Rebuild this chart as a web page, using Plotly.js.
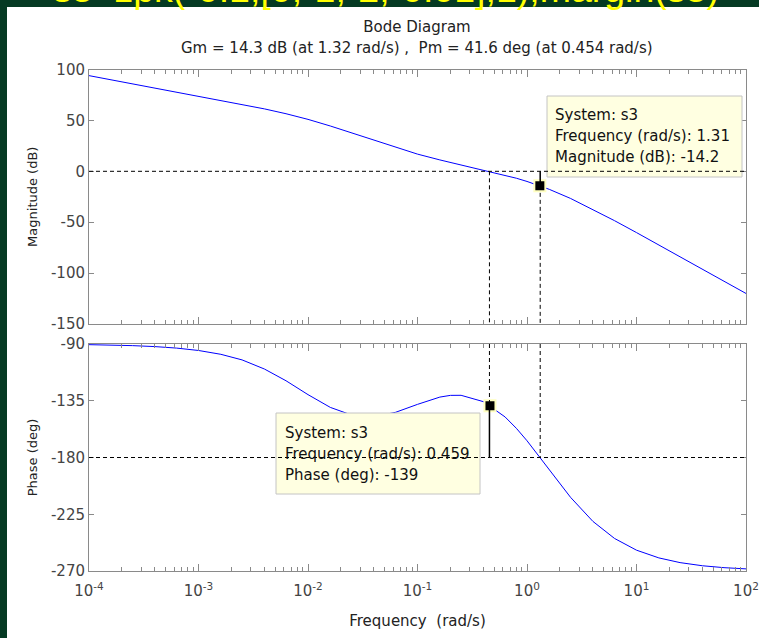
<!DOCTYPE html>
<html>
<head>
<meta charset="utf-8">
<script src="https://cdn.plot.ly/plotly-3.0.1.min.js"></script>
<style>html,body{margin:0;padding:0;background:#053a23;overflow:hidden}</style>
</head>
<body>
<div id="plot" style="width:759px;height:638px"></div>
<script>
// ---- data ----
const freq = [1e-4, 1.6e-4, 2.5e-4, 4e-4, 6.3e-4, 1e-3, 1.6e-3, 2.5e-3, 4e-3, 6.3e-3,
              0.01, 0.016, 0.025, 0.032, 0.04, 0.063, 0.1, 0.16, 0.2, 0.25, 0.4, 0.63, 0.8,
              1, 1.3, 1.6, 2.5, 4, 6.3, 10, 16, 25, 40, 63, 100];
const magnitudeDb = [93.98, 89.90, 86.02, 81.93, 77.97, 73.94, 69.79, 65.76, 61.31, 56.56,
                     51.01, 44.50, 37.68, 33.79, 30.27, 23.33, 16.89, 11.18, 8.71, 6.33, 1.38, -3.77, -6.81,
                     -9.96, -14.10, -17.75, -26.66, -37.35, -48.49, -60.21, -72.33, -83.91, -96.14, -107.97, -120.00];
const phaseDeg = [-90.52, -90.83, -91.29, -92.06, -93.24, -95.14, -98.17, -102.61, -109.85, -119.15,
                  -130.15, -140.28, -146.31, -147.66, -147.60, -144.18, -137.86, -132.09, -130.73, -130.68, -135.72, -147.81, -156.87,
                  -166.71, -179.41, -189.87, -211.60, -230.68, -244.19, -253.49, -259.61, -263.35, -265.84, -267.35, -268.33];

const xTickVals = [1e-4, 1e-3, 1e-2, 1e-1, 1, 10, 100];
const xTickText = ['10<sup>-4</sup>', '10<sup>-3</sup>', '10<sup>-2</sup>', '10<sup>-1</sup>', '10<sup>0</sup>', '10<sup>1</sup>', '10<sup>2</sup>'];
const magTicks = [-150, -100, -50, 0, 50, 100];
const magTickText = ['-150', '-100', '-50', '0', '50', '100'];
const phaseTicks = [-270, -225, -180, -135, -90];
const phaseTickText = ['-270', '-225', '-180', '-135', '-90'];

const gainMarginDb = [14.3];
const gainCrossFreq = [1.32];   // phase crossover
const phaseMarginDeg = [41.6];
const phaseCrossFreq = [0.454]; // gain crossover

const tipMagFreq = [1.31];
const tipMagValue = [-14.2];
const tipPhaseFreq = [0.459];
const tipPhaseValue = [-139];

// ---- layout helpers (pixel -> paper) ----
const W = 759, H = 638;
const px = x => x / W;
const py = y => 1 - y / H;

const FONT = 'DejaVu Sans, Liberation Sans, Arial, sans-serif';
const AXC = '#8a8a8a';
const TXT = '#222222';
const DASH = '4px,3px';

const minorVals = [];
for (let e = -4; e < 2; e++) for (let m = 2; m <= 9; m++) minorVals.push(m * Math.pow(10, e));

const XDOM = [px(89), px(746)];
const xCommon = {
  type: 'log', range: [-4, 2], domain: XDOM,
  showgrid: false, zeroline: false,
  showline: true, linecolor: AXC, linewidth: 1, mirror: 'ticks',
  ticks: 'inside', ticklen: 7, tickcolor: AXC, tickwidth: 1,
  tickmode: 'array', tickvals: xTickVals, ticktext: xTickText,
  tickfont: {family: FONT, size: 15, color: '#444'}
};
const xMinor = {
  type: 'log', range: [-4, 2], domain: XDOM,
  showgrid: false, zeroline: false, showline: false, mirror: 'ticks',
  ticks: 'inside', ticklen: 4, tickcolor: AXC, tickwidth: 1,
  tickmode: 'array', tickvals: minorVals, showticklabels: false
};
const yCommon = {
  showgrid: false, zeroline: false,
  showline: true, linecolor: AXC, linewidth: 1, mirror: 'ticks',
  ticks: 'inside', ticklen: 5, tickcolor: AXC,
  tickmode: 'array',
  tickfont: {family: FONT, size: 15, color: '#444'}
};

const traces = [
  {x: freq, y: magnitudeDb, xaxis: 'x', yaxis: 'y', mode: 'lines', line: {color: '#0000ff', width: 1}, hoverinfo: 'skip'},
  {x: freq, y: phaseDeg, xaxis: 'x2', yaxis: 'y2', mode: 'lines', line: {color: '#0000ff', width: 1}, hoverinfo: 'skip'},
  {x: tipMagFreq, y: tipMagValue, xaxis: 'x', yaxis: 'y', mode: 'markers',
   marker: {symbol: 'square', size: 11, color: '#000', line: {color: '#ffffc0', width: 2}}, hoverinfo: 'skip'},
  {x: tipPhaseFreq, y: tipPhaseValue, xaxis: 'x2', yaxis: 'y2', mode: 'markers',
   marker: {symbol: 'square', size: 11, color: '#000', line: {color: '#ffffc0', width: 2}}, hoverinfo: 'skip'},
  {x: [], y: [], xaxis: 'x3', yaxis: 'y', mode: 'lines', hoverinfo: 'skip'},
  {x: [], y: [], xaxis: 'x4', yaxis: 'y2', mode: 'lines', hoverinfo: 'skip'}
];

const pmLevel = -180 + phaseMarginDeg[0];
const shapes = [
  // white figure area
  {type: 'rect', xref: 'paper', yref: 'paper', x0: px(7), x1: 1.01, y0: -0.01, y1: py(7),
   fillcolor: '#ffffff', line: {width: 0}, layer: 'below'},
  // data tip boxes
  {type: 'rect', xref: 'paper', yref: 'paper', x0: px(547), x1: px(742), y0: py(177), y1: py(96),
   fillcolor: '#ffffe1', line: {color: '#c4c4c4', width: 1}, layer: 'above'},
  {type: 'rect', xref: 'paper', yref: 'paper', x0: px(276), x1: px(480), y0: py(494), y1: py(413),
   fillcolor: '#ffffe1', line: {color: '#c4c4c4', width: 1}, layer: 'above'},
  // magnitude panel reference lines
  {type: 'line', xref: 'x', yref: 'y', x0: 1e-4, x1: 100, y0: 0, y1: 0, line: {color: '#000', width: 1, dash: DASH}, layer: 'above'},
  {type: 'line', xref: 'x', yref: 'y', x0: phaseCrossFreq[0], x1: phaseCrossFreq[0], y0: 0, y1: -150, line: {color: '#000', width: 1, dash: DASH}, layer: 'above'},
  {type: 'line', xref: 'x', yref: 'y', x0: gainCrossFreq[0], x1: gainCrossFreq[0], y0: -gainMarginDb[0], y1: -150, line: {color: '#000', width: 1, dash: DASH}, layer: 'above'},
  {type: 'line', xref: 'x', yref: 'y', x0: gainCrossFreq[0], x1: gainCrossFreq[0], y0: 0, y1: -gainMarginDb[0], line: {color: '#000', width: 1.5}, layer: 'above'},
  // phase panel reference lines
  {type: 'line', xref: 'x2', yref: 'y2', x0: 1e-4, x1: 100, y0: -180, y1: -180, line: {color: '#000', width: 1, dash: DASH}, layer: 'above'},
  {type: 'line', xref: 'x2', yref: 'y2', x0: gainCrossFreq[0], x1: gainCrossFreq[0], y0: -90, y1: -180, line: {color: '#000', width: 1, dash: DASH}, layer: 'above'},
  {type: 'line', xref: 'x2', yref: 'y2', x0: phaseCrossFreq[0], x1: phaseCrossFreq[0], y0: -90, y1: pmLevel, line: {color: '#000', width: 1, dash: DASH}, layer: 'above'},
  {type: 'line', xref: 'x2', yref: 'y2', x0: phaseCrossFreq[0], x1: phaseCrossFreq[0], y0: pmLevel, y1: -180, line: {color: '#000', width: 1.5}, layer: 'above'}
];

function tipLine(text, x, y) {
  return {text: text, xref: 'paper', yref: 'paper', x: px(x), y: py(y), xanchor: 'left', yanchor: 'middle',
          showarrow: false, font: {family: FONT, size: 15, color: '#111'}};
}

const annotations = [
  {text: 's3=zpk(-0.1,[0,-1,-2,-0.01],1);margin(s3)', xref: 'paper', yref: 'paper', x: px(386), y: py(-11),
   xanchor: 'center', yanchor: 'middle', showarrow: false,
   font: {family: 'Liberation Sans, Arial, sans-serif', size: 37.5, color: '#ffff00'}},
  {text: 'Gm = 14.3 dB (at 1.32 rad/s) ,\u00a0 Pm = 41.6 deg (at 0.454 rad/s)', xref: 'paper', yref: 'paper',
   x: px(417), y: py(48), xanchor: 'center', yanchor: 'middle', showarrow: false,
   font: {family: FONT, size: 15, color: TXT}},
  tipLine('System: s3', 553, 115),
  tipLine('Frequency (rad/s): ' + tipMagFreq[0], 553, 136),
  tipLine('Magnitude (dB): ' + tipMagValue[0], 553, 157),
  tipLine('System: s3', 283, 433),
  tipLine('Frequency (rad/s): ' + tipPhaseFreq[0], 283, 454),
  tipLine('Phase (deg): ' + tipPhaseValue[0], 283, 475)
];

const layout = {
  width: W, height: H,
  margin: {l: 0, r: 0, t: 0, b: 0},
  paper_bgcolor: '#053a23',
  plot_bgcolor: 'rgba(0,0,0,0)',
  showlegend: false,
  title: {text: 'Bode Diagram', x: px(417), xanchor: 'center', xref: 'paper', y: py(27), yanchor: 'middle', yref: 'paper',
          font: {family: FONT, size: 15, color: TXT}},
  xaxis: Object.assign({}, xCommon, {anchor: 'y', showticklabels: false}),
  xaxis2: Object.assign({}, xCommon, {anchor: 'y2', showticklabels: true, ticklabelstandoff: 6,
          title: {text: 'Frequency\u00a0 (rad/s)', font: {family: FONT, size: 15, color: TXT}, standoff: 16}}),
  xaxis3: Object.assign({}, xMinor, {overlaying: 'x', anchor: 'y'}),
  xaxis4: Object.assign({}, xMinor, {overlaying: 'x2', anchor: 'y2'}),
  yaxis: Object.assign({}, yCommon, {domain: [py(324), py(69.5)], range: [-150, 100], tickvals: magTicks, ticktext: magTickText, anchor: 'x',
          title: {text: 'Magnitude (dB)', font: {family: FONT, size: 13, color: TXT}, standoff: 10}}),
  yaxis2: Object.assign({}, yCommon, {domain: [py(571), py(344)], range: [-270, -90], tickvals: phaseTicks, ticktext: phaseTickText, anchor: 'x2',
          title: {text: 'Phase (deg)', font: {family: FONT, size: 13, color: TXT}, standoff: 10}}),
  shapes: shapes,
  annotations: annotations
};

Plotly.newPlot('plot', traces, layout, {staticPlot: true, displayModeBar: false});
</script>
</body>
</html>
